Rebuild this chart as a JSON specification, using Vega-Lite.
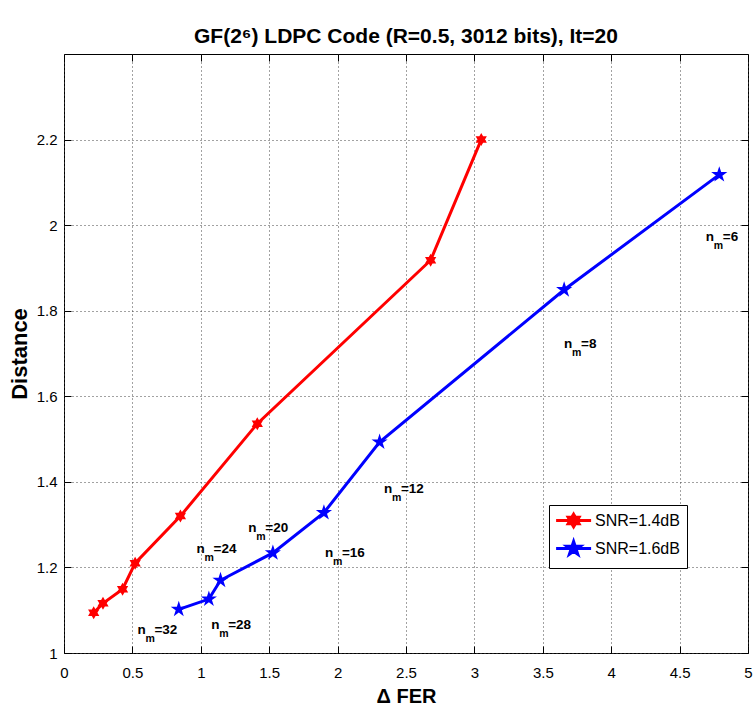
{
  "$schema": "https://vega.github.io/schema/vega-lite/v6.json",
  "width": 684,
  "height": 599,
  "autosize": {"type": "none"},
  "padding": {"left": 64, "top": 54, "right": 6, "bottom": 55},
  "background": "white",
  "title": {"text": "GF(2⁶) LDPC Code (R=0.5, 3012 bits), It=20", "fontSize": 21, "font": "Liberation Sans", "fontWeight": "bold", "baseline": "alphabetic", "offset": -10, "anchor": "middle", "color": "black"},
  "datasets": {
    "curves": [
      {"snr": "SNR=1.4dB", "fer": 0.217, "dist": 1.094},
      {"snr": "SNR=1.4dB", "fer": 0.285, "dist": 1.116},
      {"snr": "SNR=1.4dB", "fer": 0.428, "dist": 1.149},
      {"snr": "SNR=1.4dB", "fer": 0.52, "dist": 1.21},
      {"snr": "SNR=1.4dB", "fer": 0.851, "dist": 1.32},
      {"snr": "SNR=1.4dB", "fer": 1.413, "dist": 1.536},
      {"snr": "SNR=1.4dB", "fer": 2.68, "dist": 1.918},
      {"snr": "SNR=1.4dB", "fer": 3.05, "dist": 2.2},
      {"snr": "SNR=1.6dB", "fer": 0.839, "dist": 1.102},
      {"snr": "SNR=1.6dB", "fer": 1.059, "dist": 1.126},
      {"snr": "SNR=1.6dB", "fer": 1.144, "dist": 1.17},
      {"snr": "SNR=1.6dB", "fer": 1.527, "dist": 1.234},
      {"snr": "SNR=1.6dB", "fer": 1.9, "dist": 1.328},
      {"snr": "SNR=1.6dB", "fer": 2.307, "dist": 1.493},
      {"snr": "SNR=1.6dB", "fer": 3.656, "dist": 1.849},
      {"snr": "SNR=1.6dB", "fer": 4.79, "dist": 2.118}
    ],
    "labels": [
      {"x": 4.692, "y": 1.962, "eq": "=6"},
      {"x": 3.655, "y": 1.714, "eq": "=8"},
      {"x": 2.339, "y": 1.373, "eq": "=12"},
      {"x": 1.907, "y": 1.225, "eq": "=16"},
      {"x": 1.347, "y": 1.283, "eq": "=20"},
      {"x": 0.969, "y": 1.234, "eq": "=24"},
      {"x": 1.076, "y": 1.056, "eq": "=28"},
      {"x": 0.537, "y": 1.044, "eq": "=32"}
    ]
  },
  "config": {
    "view": {"stroke": "black", "strokeWidth": 1},
    "axis": {
      "labelFont": "Liberation Sans",
      "labelFontSize": 15,
      "labelColor": "black",
      "labelFlush": false,
      "labelOverlap": false,
      "titleFont": "Liberation Sans",
      "titleFontWeight": "bold",
      "titleColor": "black",
      "domainColor": "black",
      "tickColor": "black",
      "tickWidth": 1,
      "gridColor": "#444444",
      "gridDash": [1, 3],
      "gridOpacity": 1
    }
  },
  "layer": [
    {
      "data": {"name": "curves"},
      "mark": {"type": "line", "strokeWidth": 3},
      "encoding": {
        "x": {
          "field": "fer", "type": "quantitative",
          "scale": {"domain": [0, 5], "nice": false, "zero": false},
          "axis": {"orient": "bottom", "values": [0, 0.5, 1, 1.5, 2, 2.5, 3, 3.5, 4, 4.5, 5], "format": "~f", "title": "Δ FER", "titleFontSize": 20, "titleBaseline": "alphabetic", "titleY": 56, "offset": -7, "tickSize": 7, "labelPadding": 12, "domain": false, "grid": true}
        },
        "y": {
          "field": "dist", "type": "quantitative",
          "scale": {"domain": [1, 2.4], "nice": false, "zero": false},
          "axis": {"orient": "left", "values": [1, 1.2, 1.4, 1.6, 1.8, 2, 2.2], "format": "~f", "title": "Distance", "titleFontSize": 22, "titleBaseline": "alphabetic", "titleX": -44.5, "offset": -7, "tickSize": 7, "labelPadding": 7, "domain": false, "grid": true}
        },
        "color": {
          "field": "snr", "type": "nominal",
          "scale": {"domain": ["SNR=1.4dB", "SNR=1.6dB"], "range": ["#ff0000", "#0000ff"]},
          "legend": {
            "title": null, "orient": "none", "legendX": 485, "legendY": 451,
            "padding": 7, "strokeColor": "black", "fillColor": "white", "cornerRadius": 0,
            "labelFont": "Liberation Sans", "labelFontSize": 16, "labelColor": "black",
            "labelOffset": 22, "rowPadding": 2, "symbolSize": 196, "symbolStrokeWidth": 3,
            "encode": {
              "symbols": {
                "update": {
                  "shape": {"signal": "datum.value === 'SNR=1.4dB' ? 'M1.3,-0.9L1.56,-0.45L2.079,-0.45L1.82,0L2.079,0.45L1.56,0.45L1.3,0.9L1.04,0.45L0.521,0.45L0.78,0L0.521,-0.45L1.04,-0.45ZM-1.2,0L3.8,0' : 'M1.3,-1L1.525,-0.309L2.251,-0.309L1.663,0.118L1.888,0.809L1.3,0.382L0.712,0.809L0.937,0.118L0.349,-0.309L1.075,-0.309ZM-1.2,0L3.8,0'"},
                  "fill": {"signal": "datum.value === 'SNR=1.4dB' ? '#ff0000' : '#0000ff'"},
                  "stroke": {"signal": "datum.value === 'SNR=1.4dB' ? '#ff0000' : '#0000ff'"},
                  "strokeWidth": {"value": 3},
                  "opacity": {"value": 1},
                  "size": {"value": 196}
                }
              }
            }
          }
        }
      }
    },
    {
      "data": {"name": "curves"},
      "transform": [{"filter": "datum.snr === 'SNR=1.4dB'"}],
      "mark": {"type": "point", "filled": true, "opacity": 1, "color": "#ff0000", "size": 169, "shape": "M0,-1L0.289,-0.5L0.866,-0.5L0.577,0L0.866,0.5L0.289,0.5L0,1L-0.289,0.5L-0.866,0.5L-0.577,0L-0.866,-0.5L-0.289,-0.5Z"},
      "encoding": {
        "x": {
          "field": "fer", "type": "quantitative",
          "axis": {"orient": "top", "values": [0, 0.5, 1, 1.5, 2, 2.5, 3, 3.5, 4, 4.5, 5], "labels": false, "title": null, "grid": false, "domain": false, "offset": -7, "tickSize": 7}
        },
        "y": {
          "field": "dist", "type": "quantitative",
          "axis": {"orient": "right", "values": [1, 1.2, 1.4, 1.6, 1.8, 2, 2.2], "labels": false, "title": null, "grid": false, "domain": false, "offset": -7, "tickSize": 7}
        }
      }
    },
    {
      "data": {"name": "curves"},
      "transform": [{"filter": "datum.snr === 'SNR=1.6dB'"}],
      "mark": {"type": "point", "filled": true, "opacity": 1, "color": "#0000ff", "size": 289, "shape": "M0,-1L0.225,-0.309L0.951,-0.309L0.363,0.118L0.588,0.809L0,0.382L-0.588,0.809L-0.363,0.118L-0.951,-0.309L-0.225,-0.309Z"},
      "encoding": {
        "x": {"field": "fer", "type": "quantitative", "axis": null},
        "y": {"field": "dist", "type": "quantitative", "axis": null}
      }
    },
    {
      "data": {"name": "labels"},
      "mark": {"type": "text", "text": "n", "align": "left", "baseline": "alphabetic", "fontSize": 13.5, "fontWeight": "bold", "font": "Liberation Sans", "color": "black"},
      "encoding": {
        "x": {"field": "x", "type": "quantitative", "axis": null},
        "y": {"field": "y", "type": "quantitative", "axis": null}
      }
    },
    {
      "data": {"name": "labels"},
      "mark": {"type": "text", "text": "m", "align": "left", "baseline": "alphabetic", "fontSize": 10.5, "fontWeight": "bold", "font": "Liberation Sans", "color": "black", "dx": 8, "dy": 8},
      "encoding": {
        "x": {"field": "x", "type": "quantitative", "axis": null},
        "y": {"field": "y", "type": "quantitative", "axis": null}
      }
    },
    {
      "data": {"name": "labels"},
      "mark": {"type": "text", "align": "left", "baseline": "alphabetic", "fontSize": 13.5, "fontWeight": "bold", "font": "Liberation Sans", "color": "black", "dx": 17},
      "encoding": {
        "x": {"field": "x", "type": "quantitative", "axis": null},
        "y": {"field": "y", "type": "quantitative", "axis": null},
        "text": {"field": "eq"}
      }
    }
  ],
  "resolve": {"axis": {"x": "independent", "y": "independent"}}
}
